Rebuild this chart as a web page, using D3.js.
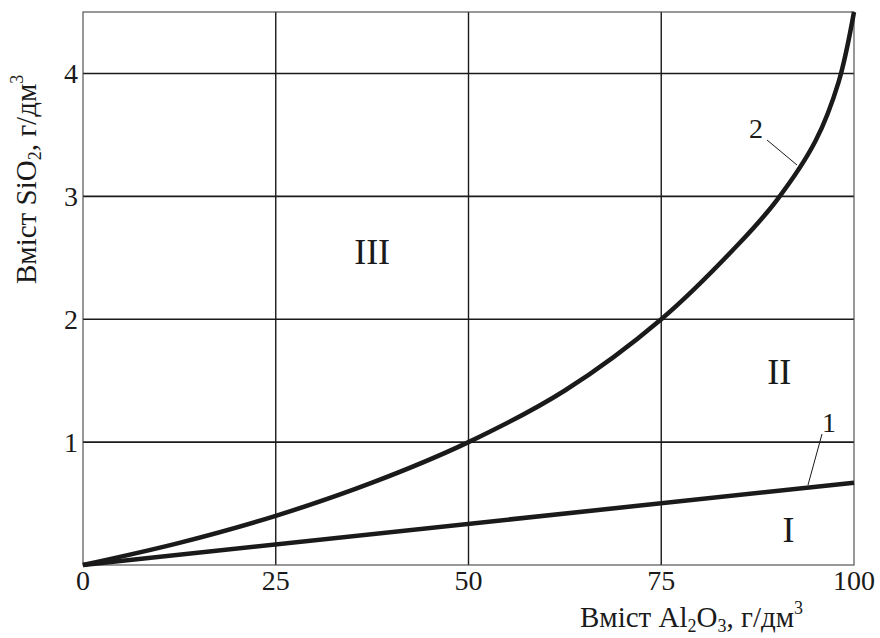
<!DOCTYPE html>
<html>
<head>
<meta charset="utf-8">
<script src="https://cdn.jsdelivr.net/npm/d3@7"></script>
<style>
  body { margin: 0; background: #fff; }
  svg text { font-family: "Liberation Serif", "Times New Roman", serif; fill: #1a1a1a; }
</style>
</head>
<body>
<svg id="chart"></svg>
<script>
// chart size
const width = 880,
    height = 638;

// axis ticks
const xTicks = [0, 25, 50, 75, 100];
const yTicks = [1, 2, 3, 4];

// curve 1 (straight line)
const line1X = [0, 100];
const line1Y = [0, 0.67];

// curve 2
const curve2X = [0, 12.5, 25, 37.5, 50, 62.5, 75, 85, 90, 95, 98, 100];
const curve2Y = [0, 0.18, 0.4, 0.67, 1.0, 1.42, 2.0, 2.61, 2.97, 3.45, 3.93, 4.5];

// region names
const regions = ["I", "II", "III"];
const regionX = [91.5, 90.3, 37.5];
const regionY = [0.19, 1.47, 2.45];

const margin = { top: 12, right: 26, bottom: 73, left: 83 };

const x = d3.scaleLinear()
    .domain([0, 100])
    .range([margin.left, width - margin.right]);

const y = d3.scaleLinear()
    .domain([0, 4.5])
    .range([height - margin.bottom, margin.top]);

const svg = d3.select("#chart")
    .attr("width", width)
    .attr("height", height);

// grid lines
svg.selectAll(".vgrid")
    .data(xTicks.slice(1, -1))
    .enter()
    .append("line")
    .attr("class", "vgrid")
    .attr("x1", d => x(d))
    .attr("x2", d => x(d))
    .attr("y1", y(0))
    .attr("y2", y(4.5))
    .attr("stroke", "#1a1a1a")
    .attr("stroke-width", 1.4);

svg.selectAll(".hgrid")
    .data(yTicks)
    .enter()
    .append("line")
    .attr("class", "hgrid")
    .attr("x1", x(0))
    .attr("x2", x(100))
    .attr("y1", d => y(d))
    .attr("y2", d => y(d))
    .attr("stroke", "#1a1a1a")
    .attr("stroke-width", 1.6);

// frame
svg.append("rect")
    .attr("x", x(0))
    .attr("y", y(4.5))
    .attr("width", x(100) - x(0))
    .attr("height", y(0) - y(4.5))
    .attr("fill", "none")
    .attr("stroke", "#444")
    .attr("stroke-width", 1.1);

// tick labels
svg.selectAll(".xlab")
    .data(xTicks)
    .enter()
    .append("text")
    .attr("class", "xlab")
    .attr("x", d => x(d))
    .attr("y", y(0) + 25)
    .attr("text-anchor", "middle")
    .attr("font-size", 28)
    .text(d => d);

svg.selectAll(".ylab")
    .data(yTicks)
    .enter()
    .append("text")
    .attr("class", "ylab")
    .attr("x", x(0) - 5)
    .attr("y", d => y(d) + 10)
    .attr("text-anchor", "end")
    .attr("font-size", 28)
    .text(d => d);

// curves
const lineGen = d3.line()
    .x(d => x(d[0]))
    .y(d => y(d[1]))
    .curve(d3.curveCatmullRom.alpha(0.5));

svg.append("path")
    .datum(line1X.map((v, i) => [v, line1Y[i]]))
    .attr("d", lineGen)
    .attr("fill", "none")
    .attr("stroke", "#1a1a1a")
    .attr("stroke-width", 4.5);

svg.append("path")
    .datum(curve2X.map((v, i) => [v, curve2Y[i]]))
    .attr("d", lineGen)
    .attr("fill", "none")
    .attr("stroke", "#1a1a1a")
    .attr("stroke-width", 4.5);

// curve numbers with leader lines
const leaders = [
    { label: "1", tx: 829, ty: 432, x1: 822, y1: 434, x2: 808, y2: 485 },
    { label: "2", tx: 756, ty: 138, x1: 767, y1: 140, x2: 797, y2: 165 }
];

svg.selectAll(".leader")
    .data(leaders)
    .enter()
    .append("line")
    .attr("class", "leader")
    .attr("x1", d => d.x1)
    .attr("y1", d => d.y1)
    .attr("x2", d => d.x2)
    .attr("y2", d => d.y2)
    .attr("stroke", "#1a1a1a")
    .attr("stroke-width", 1);

svg.selectAll(".cnum")
    .data(leaders)
    .enter()
    .append("text")
    .attr("class", "cnum")
    .attr("x", d => d.tx)
    .attr("y", d => d.ty)
    .attr("text-anchor", "middle")
    .attr("font-size", 28)
    .text(d => d.label);

// region labels
svg.selectAll(".region")
    .data(regions)
    .enter()
    .append("text")
    .attr("class", "region")
    .attr("x", (d, i) => x(regionX[i]))
    .attr("y", (d, i) => y(regionY[i]))
    .attr("text-anchor", "middle")
    .attr("font-size", 36)
    .text(d => d);

// axis titles with sub/superscripts
function addTitle(g, parts) {
    const t = g.append("text").attr("font-size", 29);
    parts.forEach(p => {
        const s = t.append("tspan").text(p.t);
        if (p.sub) s.attr("font-size", 18).attr("dy", 5);
        if (p.sup) s.attr("font-size", 18).attr("dy", -13);
        if (p.back) s.attr("dy", p.back);
    });
    return t;
}

addTitle(svg.append("g").attr("transform", "translate(580,627)"), [
    { t: "Вміст Al" }, { t: "2", sub: true }, { t: "O", back: -5 },
    { t: "3", sub: true }, { t: ", г/дм", back: -5 }, { t: "3", sup: true }
]);

addTitle(svg.append("g").attr("transform", "translate(36,284) rotate(-90)"), [
    { t: "Вміст SiO" }, { t: "2", sub: true }, { t: ", г/дм", back: -5 },
    { t: "3", sup: true }
]);
</script>
</body>
</html>
